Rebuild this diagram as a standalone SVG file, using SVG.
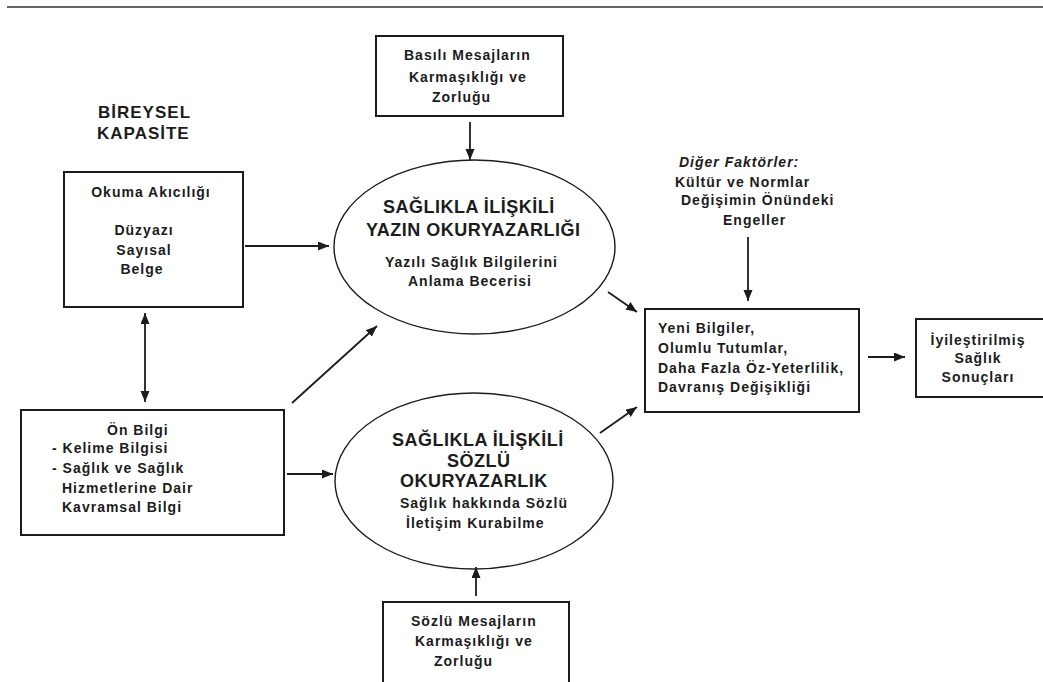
<svg xmlns="http://www.w3.org/2000/svg" width="1043" height="682" viewBox="0 0 1043 682">
<style>
text{font-family:"Liberation Sans",Arial,sans-serif;font-weight:bold;fill:#1c1c1c}
.t{font-size:14px;letter-spacing:1px}
.h{font-size:18px;letter-spacing:0.5px}
.k{font-size:17px;letter-spacing:1px}
.i{font-style:italic}
.box{fill:#fff;stroke:#1c1c1c;stroke-width:2}
.ell{fill:#fff;stroke:#1c1c1c;stroke-width:1.4}
.c{stroke:#1c1c1c;stroke-width:1.8;fill:none;marker-end:url(#ah)}
</style>
<defs>
<marker id="ah" markerUnits="userSpaceOnUse" markerWidth="12" markerHeight="10" refX="11" refY="4.5" orient="auto-start-reverse">
<path d="M0,0 L11,4.5 L0,9 z" fill="#1c1c1c"/>
</marker>
</defs>
<rect width="1043" height="682" fill="#fff"/>
<line x1="7" y1="7" x2="1043" y2="7" stroke="#333" stroke-width="1.6"/>

<g id="bireysel-label">
<text class="k" x="98" y="118">BİREYSEL</text>
<text class="k" x="97" y="139">KAPASİTE</text>
</g>

<g id="basili">
<rect class="box" x="376" y="36" width="187" height="80"/>
<text class="t" x="404" y="60">Basılı Mesajların</text>
<text class="t" x="409" y="82">Karmaşıklığı ve</text>
<text class="t" x="432" y="102">Zorluğu</text>
</g>

<g id="okuma">
<rect class="box" x="64" y="172" width="179" height="135"/>
<text class="t" x="151" y="197" text-anchor="middle">Okuma Akıcılığı</text>
<text class="t" x="144" y="235" text-anchor="middle">Düzyazı</text>
<text class="t" x="144" y="255" text-anchor="middle">Sayısal</text>
<text class="t" x="142" y="274" text-anchor="middle">Belge</text>
</g>

<g id="yazin">
<ellipse class="ell" cx="474.5" cy="247" rx="140.5" ry="87"/>
<text class="h" x="383" y="213">SAĞLIKLA İLİŞKİLİ</text>
<text class="h" x="366" y="236">YAZIN OKURYAZARLIĞI</text>
<text class="t" x="385" y="267">Yazılı Sağlık Bilgilerini</text>
<text class="t" x="408" y="286">Anlama Becerisi</text>
</g>

<g id="onbilgi">
<rect class="box" x="21" y="410" width="263" height="125"/>
<text class="t" x="107" y="435">Ön Bilgi</text>
<text class="t" x="52" y="453">- Kelime Bilgisi</text>
<text class="t" x="52" y="473">- Sağlık ve Sağlık</text>
<text class="t" x="62" y="493">Hizmetlerine Dair</text>
<text class="t" x="62" y="512">Kavramsal Bilgi</text>
</g>

<g id="sozlu">
<ellipse class="ell" cx="474" cy="481" rx="139" ry="88"/>
<text class="h" x="392" y="446">SAĞLIKLA İLİŞKİLİ</text>
<text class="h" x="447" y="467">SÖZLÜ</text>
<text class="h" x="400" y="487">OKURYAZARLIK</text>
<text class="t" x="400" y="508">Sağlık hakkında Sözlü</text>
<text class="t" x="406" y="528">İletişim Kurabilme</text>
</g>

<g id="sozlu-mesaj">
<rect class="box" x="383" y="602" width="186" height="90"/>
<text class="t" x="411" y="626">Sözlü Mesajların</text>
<text class="t" x="415" y="646">Karmaşıklığı ve</text>
<text class="t" x="434" y="666">Zorluğu</text>
</g>

<g id="diger">
<text class="t i" x="679" y="167">Diğer Faktörler:</text>
<text class="t" x="675" y="187">Kültür ve Normlar</text>
<text class="t" x="681" y="205">Değişimin Önündeki</text>
<text class="t" x="723" y="225">Engeller</text>
</g>

<g id="sonuc">
<rect class="box" x="645" y="309" width="214" height="103"/>
<text class="t" x="658" y="333">Yeni Bilgiler,</text>
<text class="t" x="658" y="353">Olumlu Tutumlar,</text>
<text class="t" x="658" y="373">Daha Fazla Öz-Yeterlilik,</text>
<text class="t" x="658" y="392">Davranış Değişikliği</text>
</g>

<g id="iyilestirilmis">
<rect class="box" x="916" y="319" width="140" height="78"/>
<text class="t" x="978" y="345" text-anchor="middle">İyileştirilmiş</text>
<text class="t" x="978" y="363" text-anchor="middle">Sağlık</text>
<text class="t" x="978" y="382" text-anchor="middle">Sonuçları</text>
</g>

<g id="connectors">
<line class="c" x1="470" y1="122" x2="470" y2="160"/>
<line class="c" x1="245" y1="246" x2="329" y2="246"/>
<line class="c" x1="145" y1="313" x2="145" y2="402" marker-start="url(#ah)"/>
<line class="c" x1="292" y1="403" x2="377" y2="326"/>
<line class="c" x1="287" y1="474" x2="333" y2="474"/>
<line class="c" x1="476" y1="596" x2="476" y2="567"/>
<line class="c" x1="608" y1="292" x2="637" y2="312"/>
<line class="c" x1="600" y1="433" x2="637" y2="407"/>
<line class="c" x1="748" y1="237" x2="748" y2="301"/>
<line class="c" x1="868" y1="357" x2="905" y2="357"/>
</g>
</svg>
